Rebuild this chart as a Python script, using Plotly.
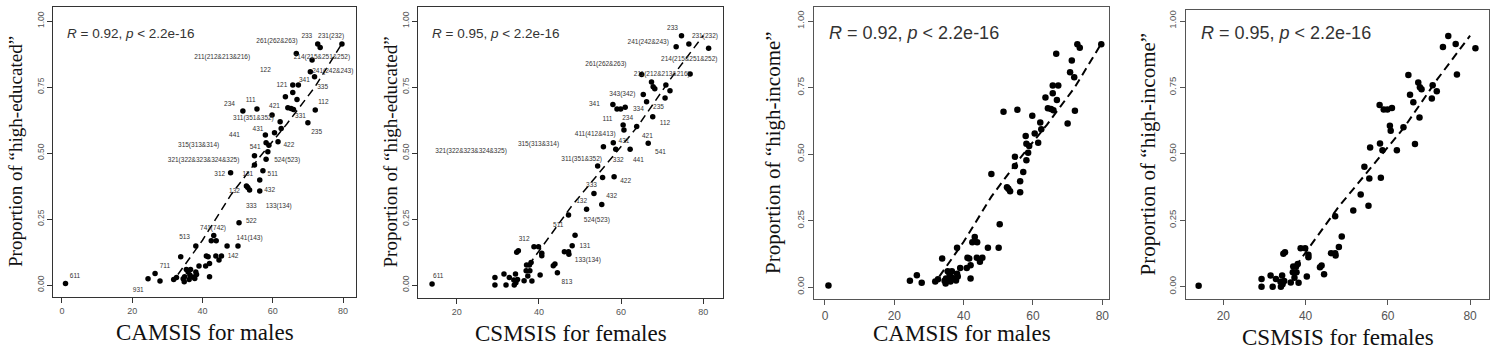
import plotly.graph_objects as go

W, H = 1496, 350

# ---------------- data: males (CAMSIS) ----------------
m_x = [1.0, 24.5, 26.5, 27.9, 31.8, 32.6, 33.8, 34.5, 34.8, 34.9, 35.4, 35.9, 36.2, 36.4,
       36.6, 37.3, 37.8, 38.1, 38.3, 38.1, 39.0, 40.9, 41.1, 41.6, 42.0, 42.0, 42.5, 43.2,
       43.9, 43.8, 44.7, 45.4, 47.0, 50.1, 50.4, 48.0, 52.5, 52.9, 53.4, 54.8, 54.8, 56.3,
       56.3, 57.2, 58.1, 58.6, 58.1, 58.9, 57.9, 61.5, 60.5, 62.4, 62.1, 59.8, 51.5, 55.5,
       64.3, 65.2, 65.9, 66.9, 63.6, 65.7, 65.7, 67.3, 72.1, 70.0, 70.7, 71.9, 71.2, 66.7,
       72.8, 73.5, 79.7]
m_y = [0.006, 0.024, 0.044, 0.016, 0.021, 0.029, 0.107, 0.024, 0.013, 0.032, 0.059, 0.050,
       0.021, 0.038, 0.059, 0.031, 0.025, 0.050, 0.040, 0.148, 0.072, 0.072, 0.110, 0.107,
       0.082, 0.032, 0.168, 0.188, 0.168, 0.110, 0.095, 0.110, 0.148, 0.148, 0.236, 0.425,
       0.375, 0.370, 0.360, 0.455, 0.490, 0.398, 0.356, 0.433, 0.477, 0.505, 0.539, 0.530,
       0.568, 0.543, 0.577, 0.593, 0.619, 0.644, 0.659, 0.667, 0.672, 0.669, 0.665, 0.703,
       0.713, 0.729, 0.758, 0.758, 0.663, 0.615, 0.808, 0.789, 0.852, 0.877, 0.913, 0.900,
       0.913]
m_fit_x = [33.0, 40.0, 48.0, 56.0, 64.0, 72.0, 79.7]
m_fit_y = [0.040, 0.170, 0.340, 0.480, 0.610, 0.750, 0.915]

m_lab = ["611", "931", "711", "513", "741(742)", "141(143)", "142", "522", "333", "133(134)",
         "132", "131", "432", "312", "511", "321(322&323&324&325)", "524(523)", "541",
         "315(313&314)", "422", "441", "431", "235", "311(351&352)", "331", "421", "234",
         "111", "112", "121", "341", "335", "122", "241(242&243)", "211(212&213&216)",
         "214(215&251&252)", "261(262&263)", "233", "231(232)"]
m_lab_x = [3.7, 21.7, 29.3, 34.9, 43.0, 53.4, 48.7, 53.9, 53.9, 61.7, 49.1, 52.9, 59.1, 44.9,
           60.0, 40.3, 64.1, 55.0, 38.9, 64.6, 49.1, 55.8, 72.5, 54.5, 67.9, 60.5, 47.7, 53.7,
           74.4, 62.6, 69.0, 74.2, 57.9, 77.1, 45.6, 74.0, 61.2, 69.7, 76.6]
m_lab_y = [0.034, -0.019, 0.072, 0.180, 0.213, 0.176, 0.110, 0.242, 0.300, 0.300, 0.356, 0.420,
           0.360, 0.420, 0.420, 0.473, 0.473, 0.520, 0.528, 0.530, 0.568, 0.590, 0.578, 0.631,
           0.638, 0.678, 0.686, 0.698, 0.691, 0.758, 0.774, 0.749, 0.814, 0.811, 0.862, 0.862,
           0.922, 0.940, 0.940]

# ---------------- data: females (CSMSIS) ----------------
f_x = [14.0, 29.3, 29.3, 31.5, 32.0, 32.8, 33.9, 34.3, 34.0, 34.4, 34.6, 35.0, 34.8, 36.4,
       36.9, 37.0, 37.3, 37.7, 37.8, 38.1, 38.3, 38.8, 39.9, 40.3, 40.7, 40.7, 43.5, 43.9,
       44.5, 46.2, 47.2, 47.3, 47.2, 48.1, 48.8, 51.6, 53.4, 55.3, 54.3, 55.5, 55.7, 58.3,
       58.1, 58.7, 62.2, 66.6, 60.5, 60.7, 63.8, 58.0, 59.0, 59.9, 61.0, 67.7, 66.2, 65.4,
       67.8, 68.2, 67.4, 70.7, 70.9, 71.9, 65.0, 76.8, 73.4, 74.7, 76.5, 81.3]
f_y = [0.004, 0.029, 0.000, 0.042, 0.000, 0.029, 0.019, 0.042, 0.000, 0.009, 0.124, 0.130,
       0.021, 0.016, 0.054, 0.076, 0.034, 0.076, 0.054, 0.085, 0.015, 0.145, 0.145, 0.038,
       0.120, 0.111, 0.073, 0.080, 0.047, 0.126, 0.126, 0.117, 0.265, 0.149, 0.189, 0.287,
       0.347, 0.305, 0.451, 0.407, 0.524, 0.410, 0.539, 0.514, 0.514, 0.537, 0.606, 0.587,
       0.600, 0.684, 0.667, 0.667, 0.673, 0.637, 0.694, 0.722, 0.751, 0.743, 0.769, 0.708,
       0.758, 0.736, 0.797, 0.799, 0.902, 0.944, 0.913, 0.897]
f_fit_x = [37.5, 48.0, 56.0, 64.0, 72.0, 80.0]
f_fit_y = [0.075, 0.300, 0.450, 0.600, 0.780, 0.945]

f_lab = ["611", "813", "133(134)", "131", "312", "511", "524(523)", "132", "432", "333",
         "422", "311(351&352)", "332", "441", "321(322&323&324&325)", "315(313&314)",
         "411(412&413)", "431", "421", "541", "341", "111", "234", "334", "235", "112",
         "343(342)", "261(262&263)", "211(212&213&216)", "214(215&251&252)",
         "241(242&243)", "233", "231(232)"]
f_lab_x = [15.5, 46.8, 51.9, 51.2, 36.4, 44.7, 54.1, 50.4, 57.7, 52.8, 61.1, 50.4, 59.3, 64.2,
           23.5, 39.9, 53.7, 60.7, 66.4, 69.6, 53.5, 56.7, 61.6, 64.2, 69.1, 70.7, 60.3, 56.3,
           69.9, 76.6, 66.6, 72.5, 80.4]
f_lab_y = [0.034, 0.009, 0.095, 0.148, 0.173, 0.227, 0.246, 0.316, 0.337, 0.379, 0.391, 0.476,
           0.473, 0.473, 0.505, 0.534, 0.571, 0.545, 0.564, 0.503, 0.684, 0.629, 0.631, 0.665,
           0.673, 0.612, 0.722, 0.836, 0.799, 0.856, 0.918, 0.972, 0.943]

y_ticks = [0.0, 0.25, 0.5, 0.75, 1.0]
y_tick_text = ["0.00", "0.25", "0.50", "0.75", "1.00"]
m_ticks = [0, 20, 40, 60, 80]
f_ticks = [20, 40, 60, 80]

r_text = ["<i>R</i> = 0.92, <i>p</i> < 2.2e-16", "<i>R</i> = 0.95, <i>p</i> < 2.2e-16",
          "<i>R</i> = 0.92, <i>p</i> < 2.2e-16", "<i>R</i> = 0.95, <i>p</i> < 2.2e-16"]
x_titles = ["CAMSIS for males", "CSMSIS for females", "CAMSIS for males", "CSMSIS for females"]
y_titles = ["Proportion of \u201chigh-educated\u201d", "Proportion of \u201chigh-educated\u201d",
            "Proportion of \u201chigh-income\u201d", "Proportion of \u201chigh-income\u201d"]

# ---------------- layout geometry (pixels) ----------------
boxes = [  # left, right, top, bottom
    (53, 356, 7, 297),
    (418, 723, 7, 298),
    (814, 1109, 7, 299),
    (1186, 1489, 10, 299),
]
xranges = [[-2.56, 83.7], [10.58, 84.8], [-3.17, 81.93], [10.93, 84.6]]
yranges = [[-0.045, 1.053], [-0.049, 1.053], [-0.045, 1.053], [-0.0463, 1.0414]]

SERIF = "Liberation Serif"
SANS = "Liberation Sans"

fig = go.Figure()

panels = [
    (m_x, m_y, m_fit_x, m_fit_y, m_lab, m_lab_x, m_lab_y, m_ticks),
    (f_x, f_y, f_fit_x, f_fit_y, f_lab, f_lab_x, f_lab_y, f_ticks),
    (m_x, m_y, m_fit_x, m_fit_y, None, None, None, m_ticks),
    (f_x, f_y, f_fit_x, f_fit_y, None, None, None, f_ticks),
]

annotations = []
for i, (px, py, fx, fy, lab, lx, ly, xt) in enumerate(panels):
    n = "" if i == 0 else str(i + 1)
    xa, ya = "x" + n, "y" + n
    big = i >= 2
    fig.add_trace(go.Scatter(x=fx, y=fy, mode="lines", xaxis=xa, yaxis=ya,
                             line=dict(color="black", width=2.0 if big else 1.5,
                                       dash="8px,5px"),
                             hoverinfo="skip", showlegend=False))
    fig.add_trace(go.Scatter(x=px, y=py, mode="markers", xaxis=xa, yaxis=ya,
                             marker=dict(color="black", size=6.5 if big else 5.5),
                             showlegend=False))
    if lab is not None:
        fig.add_trace(go.Scatter(x=lx, y=ly, text=lab, mode="text", xaxis=xa, yaxis=ya,
                                 textfont=dict(family=SANS, size=6.5, color="#333333"),
                                 textposition="middle center", showlegend=False))
    l, r, t, b = boxes[i]
    lw = 1.3 if big else 1
    lc = "#555555" if big else "#333333"
    fig.layout["xaxis" + n] = dict(
        domain=[l / W, r / W], range=xranges[i], anchor=ya,
        showline=True, mirror=True, linecolor=lc, linewidth=lw,
        ticks="outside", ticklen=5, tickcolor=lc, tickwidth=lw,
        tickvals=xt, showgrid=False, zeroline=False,
        tickfont=dict(family=SANS, size=12 if big else 9, color="#555555"))
    fig.layout["yaxis" + n] = dict(
        domain=[(H - b) / H, (H - t) / H], range=yranges[i], anchor=xa,
        showline=True, mirror=True, linecolor=lc, linewidth=lw,
        ticks="outside", ticklen=5, tickcolor=lc, tickwidth=lw,
        tickvals=y_ticks, ticktext=y_tick_text, tickangle=-90,
        showgrid=False, zeroline=False,
        tickfont=dict(family=SANS, size=9.5 if big else 8.5, color="#555555"))
    # correlation text
    annotations.append(dict(
        text=r_text[i], xref="paper", yref="paper",
        x=(l + (13 if big else 12)) / W, y=(H - 33) / H, xanchor="left", yanchor="middle",
        showarrow=False, font=dict(family=SANS, size=18 if big else 13.5, color="#333333")))

x_title_y = [332, 333, 333, 337]
y_title_x = [15, 390, 773, 1147]
for i in range(4):
    l, r, t, b = boxes[i]
    big = i >= 2
    annotations.append(dict(
        text=x_titles[i], xref="paper", yref="paper",
        x=(l + r) / 2 / W, y=(H - x_title_y[i]) / H, xanchor="center", yanchor="middle",
        showarrow=False, font=dict(family=SERIF, size=23, color="#111111")))
    annotations.append(dict(
        text=y_titles[i], xref="paper", yref="paper", textangle=-90,
        x=y_title_x[i] / W, y=(H - (t + b) / 2) / H, xanchor="center", yanchor="middle",
        showarrow=False, font=dict(family=SERIF, size=21 if big else 19, color="#111111")))

fig.update_layout(
    width=W, height=H, margin=dict(l=0, r=0, t=0, b=0),
    paper_bgcolor="white", plot_bgcolor="white",
    annotations=annotations, showlegend=False)

fig.write_html("out.html", config={"displayModeBar": False})
